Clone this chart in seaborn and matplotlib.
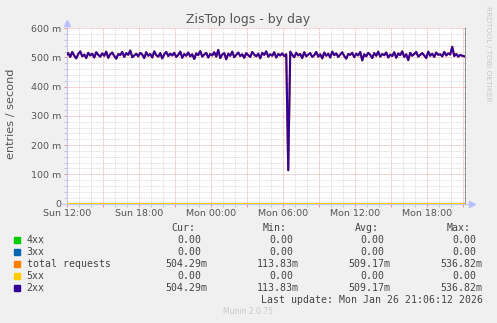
import numpy as np
import pandas as pd
import matplotlib
matplotlib.use("Agg")
import matplotlib.pyplot as plt
import matplotlib.patches as mpatches
import seaborn as sns

# ---------------- data (values in milli entries / second, 10-minute samples) -------------
blk_sun12 = [508, 515, 502, 519, 506, 497, 512, 521, 504, 510, 498, 516, 507, 513, 500, 518, 509, 503]
blk_sun15 = [514, 506, 520, 499, 511, 517, 505, 496, 512, 508, 519, 502, 515, 509, 524, 501, 507, 513]
blk_sun18 = [504, 516, 510, 498, 518, 506, 512, 500, 521, 508, 503, 515, 497, 511, 519, 505, 513, 507]
blk_sun21 = [516, 502, 509, 520, 499, 512, 506, 517, 504, 511, 495, 514, 508, 522, 503, 510, 516, 500]
blk_mon00 = [512, 507, 518, 503, 526, 498, 510, 515, 494, 513, 506, 520, 501, 509, 517, 505, 511, 499]
blk_mon03 = [515, 508, 502, 519, 510, 504, 513, 497, 516, 509, 521, 503, 511, 506, 518, 500, 512, 507]
blk_mon06 = [514, 505, 511, 113.83, 520, 509, 501, 516, 507, 512, 498, 518, 504, 510, 515, 502, 508, 519]
blk_mon09 = [503, 511, 497, 517, 506, 513, 500, 520, 508, 514, 502, 510, 518, 505, 496, 512, 509, 516]
blk_mon12 = [501, 513, 507, 519, 490, 511, 504, 516, 509, 498, 515, 506, 520, 503, 512, 508, 517, 500]
blk_mon15 = [510, 505, 518, 499, 514, 508, 521, 502, 511, 491, 516, 506, 512, 519, 503, 509, 515, 507]
blk_mon18 = [498, 520, 506, 513, 502, 517, 509, 511, 504, 519, 507, 514, 510, 536.82, 505, 512, 503, 509, 506, 504.29]

values_2xx = (blk_sun12 + blk_sun15 + blk_sun18 + blk_sun21 + blk_mon00 + blk_mon03 +
              blk_mon06 + blk_mon09 + blk_mon12 + blk_mon15 + blk_mon18)
values_total = list(values_2xx)
values_4xx = [0.0] * len(values_2xx)
values_3xx = [0.0] * len(values_2xx)
values_5xx = [0.0] * len(values_2xx)

series_names = ["4xx", "3xx", "total requests", "5xx", "2xx"]
series_colors = ["#00CC00", "#0066B3", "#FF8000", "#FFCC00", "#330099"]
series_values = [values_4xx, values_3xx, values_total, values_5xx, values_2xx]

times = pd.date_range("2026-01-25 11:56:12", periods=len(values_2xx), freq="10min")

stat_cur = [0.0, 0.0, 504.29, 0.0, 504.29]
stat_min = [0.0, 0.0, 113.83, 0.0, 113.83]
stat_avg = [0.0, 0.0, 509.17, 0.0, 509.17]
stat_max = [0.0, 0.0, 536.82, 0.0, 536.82]

x_tick_labels = ["Sun 12:00", "Sun 18:00", "Mon 00:00", "Mon 06:00", "Mon 12:00", "Mon 18:00"]
y_ticks = [0, 100, 200, 300, 400, 500, 600]
y_tick_labels = ["0", "100 m", "200 m", "300 m", "400 m", "500 m", "600 m"]

title = "ZisTop logs - by day"
y_label = "entries / second"
last_update = "Last update: Mon Jan 26 21:06:12 2026"

df = pd.concat([pd.DataFrame({"time": times, "value": v, "series": n})
                for n, v in zip(series_names, series_values)], ignore_index=True)

# ---------------- figure ----------------
W, H = 497, 323
fig = plt.figure(figsize=(W / 100, H / 100), dpi=100, facecolor="#F0F0F0")
plt.rcParams["font.family"] = ["DejaVu Sans"]

x0, x1, ytop, ybot = 66.5, 467.0, 28.3, 203.5
ax = fig.add_axes([x0 / W, (H - ybot) / H, (x1 - x0) / W, (ybot - ytop) / H])
ax.set_facecolor("white")

t_ref = pd.Timestamp("2026-01-25 12:00:00")
px_per_h = 12.0
left_t = t_ref - pd.Timedelta(hours=(67.0 - x0) / px_per_h)
right_t = t_ref + pd.Timedelta(hours=(x1 - 67.0) / px_per_h)

sns.lineplot(data=df, x="time", y="value", hue="series", hue_order=series_names,
             palette=series_colors, legend=False, ax=ax, linewidth=1.5, sort=False,
             estimator=None)

ax.set_xlim(left_t, right_t)
ax.set_ylim(0, 600)

major_x = pd.date_range(t_ref, right_t, freq="3h")
minor_x = pd.date_range(t_ref, right_t, freq="1h")
ax.set_xticks(major_x)
ax.set_xticks(minor_x, minor=True)
xl = []
k = 0
for i, t in enumerate(major_x):
    if i % 2 == 0 and k < len(x_tick_labels):
        xl.append(x_tick_labels[k]); k += 1
    else:
        xl.append("")
ax.set_xticklabels(xl)
ax.set_yticks(y_ticks)
ax.set_yticklabels(y_tick_labels)
ax.set_yticks(np.arange(0, 601, 20), minor=True)

ax.set_axisbelow(True)
ax.grid(which="minor", color="#d4d4d4", linestyle=(0, (1, 1)), linewidth=0.6)
ax.grid(which="major", color="#e8a0a0", linestyle=(0, (1, 1)), linewidth=0.6)

for s in ax.spines.values():
    s.set_visible(False)
ax.tick_params(which="major", length=2, width=0.6, color="#e08080", labelsize=6.8,
               labelcolor="#555555", pad=2)
ax.tick_params(which="minor", length=2, width=0.6, color="#c0c0c0")
ax.set_xlabel("")
ax.set_ylabel("")

# axis lines with arrows
axc = "#c0c4f8"
ax.plot([0, 0], [0, 1.015], transform=ax.transAxes, color=axc, lw=0.8, clip_on=False, zorder=1)
ax.plot([-0.01, 1.0075], [0, 0], transform=ax.transAxes, color=axc, lw=0.8, clip_on=False, zorder=1)
ax.plot([0], [1.03], transform=ax.transAxes, marker="^", ms=4, color="#b8c0ff", clip_on=False)
ax.plot([1.0115], [0], transform=ax.transAxes, marker=">", ms=4, color="#b8c0ff", clip_on=False)
# "now" rule
ax.axvline(times[-1] + pd.Timedelta(minutes=6), color="#909090", lw=0.8, zorder=3)

# ---------------- texts ----------------
def fx(px):
    return px / W

def fy(py):
    return (H - py) / H

fig.text(fx(248.5), fy(19.5), title, ha="center", va="center", fontsize=9, color="#555555")
fig.text(fx(11), fy(114), y_label, ha="center", va="center", rotation=90, fontsize=8.1,
         color="#555555")
fig.text(fx(488), fy(53.5), "RRDTOOL / TOBI OETIKER", ha="center", va="center",
         rotation=270, fontsize=5.4, color="#c8c8c8")

mono = "DejaVu Sans Mono"
fsz = 7.1
tc = "#444444"
charw = 5.95
row_y = [240, 252, 263.7, 275.7, 287.7]
header_y = 227.7
headers = [("Cur:", 171.7), ("Min:", 263), ("Avg:", 355), ("Max:", 446.7)]
for h, xh in headers:
    fig.text(fx(xh), fy(header_y), h, ha="left", va="center", family=mono, fontsize=fsz, color=tc)

col_right = [207.7, 299.0, 390.7, 482.7]
stats = [stat_cur, stat_min, stat_avg, stat_max]
for i, (name, col) in enumerate(zip(series_names, series_colors)):
    y = row_y[i]
    fig.patches.append(mpatches.Rectangle((fx(14), fy(y + 3)), 6 / W, 6 / H,
                                          transform=fig.transFigure, color=col, figure=fig))
    fig.text(fx(26.7), fy(y), name, ha="left", va="center", family=mono, fontsize=fsz, color=tc)
    for j, st in enumerate(stats):
        v = st[i]
        if v == 0:
            s, xr = "0.00", col_right[j] - charw
        else:
            s, xr = f"{v:.2f}m", col_right[j]
        fig.text(fx(xr), fy(y), s, ha="right", va="center", family=mono, fontsize=fsz, color=tc)

fig.text(fx(482.7), fy(300), last_update, ha="right", va="center", family=mono,
         fontsize=fsz, color=tc)
fig.text(fx(247.7), fy(312), "Munin 2.0.75", ha="center", va="center", fontsize=5.5,
         color="#c8c8c8")

fig.savefig("out.png", dpi=100, facecolor=fig.get_facecolor())
